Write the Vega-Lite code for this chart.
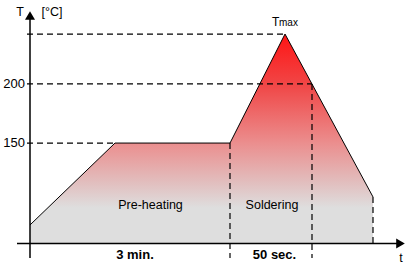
{
  "$schema": "https://vega.github.io/schema/vega-lite/v6.json",
  "width": 406,
  "height": 266,
  "padding": 0,
  "autosize": {"type": "none"},
  "background": "white",
  "config": {"view": {"stroke": null}},
  "datasets": {
    "profile": [
      {"t": 30, "temp": 80.7},
      {"t": 115, "temp": 150},
      {"t": 230, "temp": 150},
      {"t": 285, "temp": 242.2},
      {"t": 373, "temp": 104.4}
    ],
    "dashed": [
      {"t": 27, "t2": 285, "temp": 242.2, "temp2": 242.2},
      {"t": 27, "t2": 312, "temp": 200, "temp2": 200},
      {"t": 27, "t2": 115, "temp": 150, "temp2": 150},
      {"t": 230, "t2": 230, "temp": 150, "temp2": 52.8},
      {"t": 312, "t2": 312, "temp": 200, "temp2": 52.8},
      {"t": 373, "t2": 373, "temp": 104.4, "temp2": 65}
    ],
    "axes": [
      {"t": 30, "t2": 30, "temp": 52.8, "temp2": 255},
      {"t": 17, "t2": 398, "temp": 65, "temp2": 65}
    ],
    "arrows": [
      {"t": 30, "temp": 257.9, "dir": "up"},
      {"t": 400.5, "temp": 65, "dir": "right"}
    ],
    "ticklabels": [
      {"t": 25, "temp": 200, "label": "200"},
      {"t": 25, "temp": 150, "label": "150"}
    ],
    "labels": [
      {"t": 20, "temp": 260.9, "label": "T"},
      {"t": 52, "temp": 260.9, "label": "[°C]"},
      {"t": 150.5, "temp": 97.6, "label": "Pre-heating"},
      {"t": 272, "temp": 97.6, "label": "Soldering"},
      {"t": 401, "temp": 52.8, "label": "t"}
    ],
    "bold": [
      {"t": 135, "temp": 54.9, "label": "3 min."},
      {"t": 274.5, "temp": 54.9, "label": "50 sec."}
    ]
  },
  "encoding": {
    "x": {"field": "t", "type": "quantitative", "scale": {"domain": [0, 406], "nice": false, "zero": false}, "axis": null},
    "y": {"field": "temp", "type": "quantitative", "scale": {"domain": [46, 271], "nice": false, "zero": false}, "axis": null}
  },
  "layer": [
    {
      "data": {"name": "profile"},
      "mark": {
        "type": "area",
        "fillOpacity": 1,
        "fill": {
          "gradient": "linear", "x1": 0, "y1": 0, "x2": 0, "y2": 1,
          "stops": [
            {"offset": 0, "color": "#ff1414"},
            {"offset": 0.25, "color": "#f04848"},
            {"offset": 0.52, "color": "#eb8e8e"},
            {"offset": 0.7, "color": "#e2bcbc"},
            {"offset": 0.83, "color": "#dedede"},
            {"offset": 1, "color": "#dedede"}
          ]
        }
      },
      "encoding": {"y2": {"datum": 65}}
    },
    {
      "data": {"name": "profile"},
      "mark": {"type": "line", "color": "black", "strokeWidth": 1}
    },
    {
      "data": {"name": "dashed"},
      "mark": {"type": "rule", "color": "black", "strokeWidth": 1.2, "strokeDash": [6, 4]},
      "encoding": {
        "x2": {"field": "t2"},
        "y2": {"field": "temp2"}
      }
    },
    {
      "data": {"name": "axes"},
      "mark": {"type": "rule", "color": "black", "strokeWidth": 1.5},
      "encoding": {
        "x2": {"field": "t2"},
        "y2": {"field": "temp2"}
      }
    },
    {
      "data": {"name": "arrows"},
      "mark": {"type": "point", "filled": true, "color": "black", "opacity": 1, "size": 100},
      "encoding": {
        "shape": {"field": "dir", "type": "nominal", "scale": {"domain": ["up", "right"], "range": ["triangle-up", "triangle-right"]}, "legend": null}
      }
    },
    {
      "data": {"name": "ticklabels"},
      "mark": {"type": "text", "align": "right", "baseline": "middle", "font": "Liberation Sans", "fontSize": 13, "color": "black"},
      "encoding": {"text": {"field": "label"}}
    },
    {
      "data": {"name": "labels"},
      "mark": {"type": "text", "align": "center", "baseline": "middle", "font": "Liberation Sans", "fontSize": 12.5, "color": "black"},
      "encoding": {"text": {"field": "label"}}
    },
    {
      "data": {"values": [{"t": 272, "temp": 249.0, "label": "T"}]},
      "mark": {"type": "text", "align": "left", "baseline": "alphabetic", "font": "Liberation Sans", "fontSize": 12, "color": "black"},
      "encoding": {"text": {"field": "label"}}
    },
    {
      "data": {"values": [{"t": 279, "temp": 249.0, "label": "max"}]},
      "mark": {"type": "text", "align": "left", "baseline": "alphabetic", "font": "Liberation Sans", "fontSize": 10, "color": "black"},
      "encoding": {"text": {"field": "label"}}
    },
    {
      "data": {"name": "bold"},
      "mark": {"type": "text", "align": "center", "baseline": "middle", "font": "Liberation Sans", "fontSize": 13, "fontWeight": "bold", "color": "black"},
      "encoding": {"text": {"field": "label"}}
    }
  ]
}
